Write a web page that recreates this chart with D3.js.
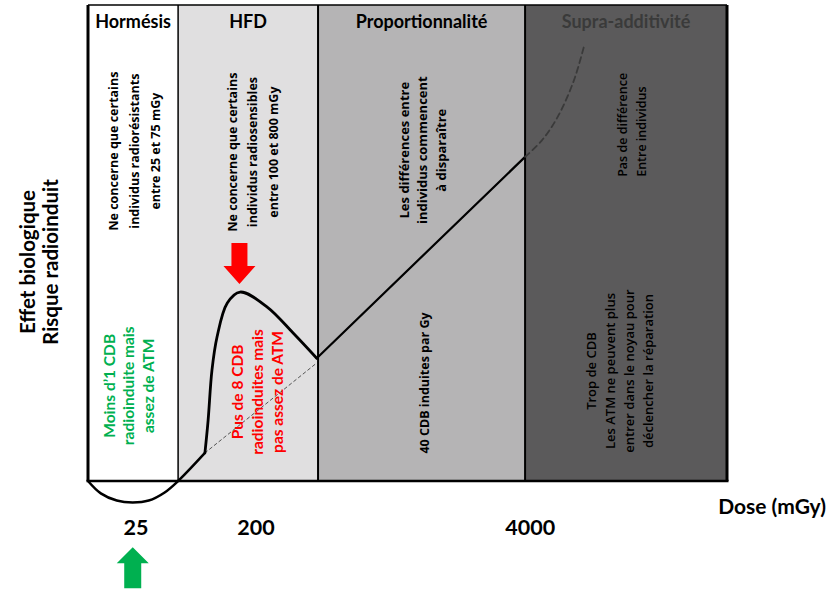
<!DOCTYPE html>
<html>
<head>
<meta charset="utf-8">
<script src="https://cdn.jsdelivr.net/npm/d3@7"></script>
<style>
  body { margin: 0; background: #fff; }
  svg { display: block; }
  text { font-family: 'Open Sans', sans-serif; }
</style>
</head>
<body>
<svg id="chart" width="828" height="592"></svg>
<script>
// Schematic units: x 0..100 across the frame, y 0..100 from dose axis up to the top edge.
const zoneNames = ['Hormésis', 'HFD', 'Proportionnalité', 'Supra-additivité'];
const zoneEdges = [0, 14.1, 36, 68.4, 100];
const doseTicks = ['25', '200', '4000'];
const doseTickPos = [7.5, 26.3, 69.2];

// response curve
const hormesisDip = [[0, 0], [2, -2.6], [4.5, -4.1], [7, -4.5], [9.5, -4.1], [12, -2.4], [14.1, 0], [18.3, 5.9]];
const hfdHump = [[18.3, 5.9], [18.8, 12.8], [19.4, 23.3], [20.2, 30.3], [21.8, 37.4], [23.8, 39.7], [28, 36.6], [32.1, 31.1], [35.8, 25.8]];
const linearPart = [[35.8, 25.8], [68.4, 68.1]];
const linearHidden = [[18.3, 5.9], [35.8, 24.8]];
const supraPart = [[68.4, 68.1], [71, 71.5], [73.5, 76.5], [76, 84], [77.6, 91.2]];

// annotations
const txtHormesis = ['Ne concerne que certains', 'individus radiorésistants', 'entre 25 et 75 mGy'];
const txtHfd = ['Ne concerne que certains', 'individus radiosensibles', 'entre 100 et 800 mGy'];
const txtGreen = ['Moins d’1 CDB', 'radioinduite mais', 'assez de ATM'];
const txtRed = ['Pus de 8 CDB', 'radioinduites mais', 'pas assez de ATM'];
const txtProp = ['Les différences entre', 'individus commencent', 'à disparaître'];
const txtProp2 = ['40 CDB induites par Gy'];
const txtSupra = ['Pas de différence', 'Entre individus'];
const txtSupra2 = ['Trop de  CDB', 'Les ATM ne peuvent plus', 'entrer dans le noyau pour', 'déclencher la réparation'];
const yTitle = ['Effet biologique', 'Risque radioinduit'];
const xTitle = 'Dose (mGy)';

const svg = d3.select('#chart');
const x = d3.scaleLinear().domain([0, 100]).range([88, 727]);
const y = d3.scaleLinear().domain([0, 100]).range([481, 5]);

const zoneFill = ['#ffffff', '#e0dfe0', '#b5b4b5', '#5b5a5b'];
const zoneTitleColor = ['#000', '#000', '#000', '#3a3a3a'];
const zones = zoneNames.map((name, i) => ({ name, x0: zoneEdges[i], x1: zoneEdges[i + 1], i }));

// -- zone backgrounds
svg.append('g').selectAll('rect').data(zones).join('rect')
  .attr('x', d => x(d.x0)).attr('y', y(100))
  .attr('width', d => x(d.x1) - x(d.x0)).attr('height', y(0) - y(100))
  .attr('fill', d => zoneFill[d.i]);

svg.append('g').selectAll('text').data(zones).join('text')
  .attr('x', d => (x(d.x0) + x(d.x1)) / 2).attr('y', y(100) + 23)
  .attr('text-anchor', 'middle')
  .style('font-family', 'Lato, sans-serif').attr('font-weight', 700).attr('font-size', 18)
  .attr('fill', d => zoneTitleColor[d.i])
  .text(d => d.name);

// -- frame
const sepWidth = [3, 1.5, 2, 2, 3];
const frame = svg.append('g').attr('stroke', '#000');
frame.selectAll('line.sep').data(zoneEdges).join('line')
  .attr('class', 'sep')
  .attr('x1', d => x(d)).attr('x2', d => x(d))
  .attr('y1', y(100)).attr('y2', y(0))
  .attr('stroke-width', (d, i) => sepWidth[i]);
frame.append('line')
  .attr('x1', x(0)).attr('x2', x(100)).attr('y1', y(100)).attr('y2', y(100))
  .attr('stroke-width', 1.5);
frame.append('line')
  .attr('x1', x(0) - 1.5).attr('x2', x(100) + 1.5).attr('y1', y(0)).attr('y2', y(0))
  .attr('stroke-width', 2.5);

// -- curve
const smooth = d3.line().x(d => x(d[0])).y(d => y(d[1])).curve(d3.curveCatmullRom.alpha(0.5));
const straight = d3.line().x(d => x(d[0])).y(d => y(d[1]));
const curves = svg.append('g').attr('fill', 'none').attr('stroke-linecap', 'round');

curves.append('path').attr('d', straight(linearHidden))
  .attr('stroke', '#555').attr('stroke-width', 1).attr('stroke-dasharray', '3,3');
curves.append('path').attr('d', smooth(hormesisDip)).attr('stroke', '#000').attr('stroke-width', 2.5);
curves.append('path').attr('d', smooth(hfdHump)).attr('stroke', '#000').attr('stroke-width', 2.8);
curves.append('path').attr('d', straight(linearPart)).attr('stroke', '#000').attr('stroke-width', 2.2);
curves.append('path').attr('d', smooth(supraPart))
  .attr('stroke', '#3a3a3a').attr('stroke-width', 1.8).attr('stroke-dasharray', '6,4');

// -- rotated text blocks
function block(lines, ux, uy, opt) {
  const n = lines.length;
  const g = svg.append('g')
    .attr('transform', `translate(${x(ux)},${y(uy)}) rotate(-90)`);
  g.selectAll('text').data(lines).join('text')
    .attr('x', 0)
    .attr('y', (d, i) => (i - (n - 1) / 2) * opt.gap)
    .attr('dominant-baseline', 'central')
    .attr('text-anchor', opt.anchor || 'middle')
    .attr('font-size', opt.size)
    .attr('font-weight', opt.weight || 700)
    .attr('fill', opt.color || '#000')
    .style('font-family', opt.font || null)
    .text(d => d);
}

block(txtHormesis, 7.2, 69.3, { gap: 21, size: 12.5 });
block(txtHfd, 25.8, 69.1, { gap: 20.5, size: 12.5 });
block(txtGreen, 6.3, 20.0, { gap: 19.5, size: 15.5, color: '#00b050', font: 'Lato, sans-serif' });
block(txtRed, 26.4, 18.7, { gap: 20, size: 15.5, color: '#ff0000', font: 'Lato, sans-serif' });
block(txtProp, 52.3, 69.5, { gap: 18.5, size: 13 });
block(txtProp2, 52.6, 20.6, { gap: 19, size: 12.5 });
block(txtSupra, 85.1, 63.9, { gap: 19.5, size: 12.5, weight: 600, anchor: 'start' });
block(txtSupra2, 83.1, 23.1, { gap: 19, size: 13, weight: 600 });

// -- arrows
function arrowPath(cx, tip, dir, len, headLen, headW, shaftW) {
  // dir = 1 points down, -1 points up
  const base = tip - dir * len, neck = tip - dir * headLen;
  const p = d3.path();
  p.moveTo(cx - shaftW / 2, base);
  p.lineTo(cx - shaftW / 2, neck);
  p.lineTo(cx - headW / 2, neck);
  p.lineTo(cx, tip);
  p.lineTo(cx + headW / 2, neck);
  p.lineTo(cx + shaftW / 2, neck);
  p.lineTo(cx + shaftW / 2, base);
  p.closePath();
  return p.toString();
}
svg.append('path').attr('d', arrowPath(x(23.7), y(41.4), 1, 41, 18, 32, 16)).attr('fill', '#ff0000');
svg.append('path').attr('d', arrowPath(x(7.0), y(-13.9), -1, 41, 16, 32, 17)).attr('fill', '#00b050');

// -- dose ticks
svg.append('g').selectAll('text').data(doseTicks).join('text')
  .attr('x', (d, i) => x(doseTickPos[i])).attr('y', 535)
  .attr('text-anchor', 'middle')
  .style('font-family', 'Lato, sans-serif').attr('font-weight', 700).attr('font-size', 21.5)
  .text(d => d);

svg.append('text')
  .attr('x', 826).attr('y', 514).attr('text-anchor', 'end')
  .style('font-family', 'Lato, sans-serif').attr('font-weight', 700).attr('font-size', 21)
  .text(xTitle);

// -- y title
svg.append('g').attr('transform', `translate(38,${y(46)}) rotate(-90)`)
  .selectAll('text').data(yTitle).join('text')
  .attr('x', 0).attr('y', (d, i) => (i - 0.5) * 23)
  .attr('dominant-baseline', 'central').attr('text-anchor', 'middle')
  .style('font-family', 'Lato, sans-serif').attr('font-weight', 700).attr('font-size', 20.5)
  .text(d => d);
</script>
</body>
</html>
